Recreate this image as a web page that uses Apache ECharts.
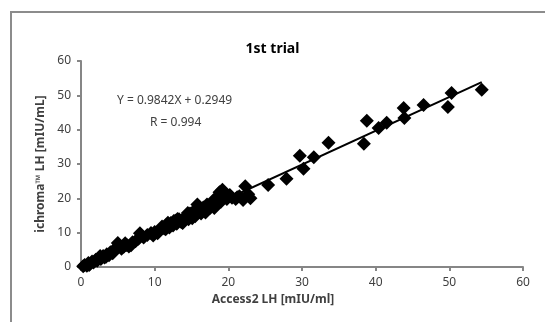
<!DOCTYPE html>
<html>
<head>
<meta charset="utf-8">
<script src="https://cdn.jsdelivr.net/npm/echarts@6/dist/echarts.min.js"></script>
<style>
  html, body { margin: 0; padding: 0; background: #fff; }
  #chart { width: 545px; height: 322px; }
</style>
</head>
<body>
<div id="chart"></div>
<script>
// Access2 LH (x) vs ichroma LH (y)
const accessValues = [
  0.3, 0.5, 0.8, 1.0, 1.2, 1.5, 1.7, 2.0, 2.2, 2.4, 2.7, 3.0, 3.2, 3.5, 3.8,
  4.0, 4.3, 4.6, 4.8, 5.0, 5.2, 5.5, 5.8, 6.2, 6.5, 7.0, 7.4, 7.8, 8.0, 8.5,
  9.0, 9.5, 10.0, 10.4, 10.8, 11.0, 11.3, 11.6, 12.0, 12.2, 12.5, 12.8, 13.0, 13.3, 13.6,
  14.0, 14.3, 14.6, 15.0, 15.3, 15.5, 15.8, 16.0, 16.3, 16.6, 17.0, 17.2, 17.5, 17.8, 18.0,
  18.3, 18.5, 18.8, 19.0, 19.2, 19.5, 19.8, 20.2, 20.5, 21.0, 21.5, 22.0, 22.3, 22.7, 23.0,
  25.4, 27.9, 29.7, 30.2, 31.6, 33.6, 38.4, 38.8, 40.4, 41.5, 43.8, 43.9, 46.5, 49.8, 50.3,
  54.4,
  1.1, 2.6, 3.4, 4.4, 6.0, 6.8, 9.8, 11.5, 12.6, 13.8, 14.8, 15.1, 16.1, 16.9, 17.6,
  18.1, 18.7, 19.6, 20.0, 21.2, 11.8, 13.1, 14.5, 15.6, 17.1
]
const ichromaValues = [
  0.2, 0.6, 0.4, 1.2, 0.9, 1.6, 1.3, 2.1, 1.8, 2.6, 2.3, 3.2, 2.8, 3.7, 3.4,
  4.3, 4.0, 4.9, 5.6, 7.0, 6.2, 5.3, 5.9, 6.4, 6.0, 7.2, 7.5, 8.2, 9.8, 8.6,
  9.3, 9.9, 10.2, 9.8, 10.9, 11.8, 11.2, 12.3, 11.5, 12.8, 12.1, 13.5, 12.6, 13.9, 13.1,
  14.2, 14.8, 13.9, 15.4, 16.0, 14.8, 18.2, 16.5, 15.6, 17.3, 16.8, 18.0, 17.2, 18.6, 19.5,
  17.9, 20.3, 21.8, 19.0, 22.5, 20.5, 19.8, 21.0, 20.2, 19.8, 20.6, 19.5, 23.5, 21.2, 20.0,
  23.9, 25.7, 32.4, 28.6, 32.0, 36.2, 35.9, 42.6, 40.5, 42.0, 46.3, 43.4, 47.2, 46.6, 50.7,
  51.6,
  0.6, 3.2, 3.0, 4.8, 6.9, 6.3, 9.2, 11.0, 13.4, 12.8, 15.6, 14.2, 17.4, 15.9, 18.3,
  17.2, 19.8, 21.2, 20.6, 20.3, 12.9, 14.0, 15.7, 16.9, 18.2
]
// linear fit line end points (Y = 0.9842X + 0.2949)
const trendX = [0, 54.4]
const trendY = [0.29, 53.84]
const axisTicks = [0, 10, 20, 30, 40, 50, 60]

const chart = echarts.init(document.getElementById('chart'))

const points = accessValues.map((x, i) => [x, ichromaValues[i]])
const trend = trendX.map((x, i) => [x, trendY[i]])

const textColor = '#404040'
const axisColor = '#868686'
const fontFamily = '"Noto Sans", "Open Sans", sans-serif'

const option = {
  animation: false,
  backgroundColor: '#fff',
  title: {
    text: '1st trial',
    left: 'center',
    top: 37,
    textStyle: { fontSize: 14, fontWeight: 'bold', color: '#000', fontFamily }
  },
  grid: { left: 81, right: 22, top: 61, bottom: 55 },
  xAxis: {
    type: 'value',
    min: axisTicks[0],
    max: axisTicks[axisTicks.length - 1],
    interval: 10,
    axisLine: { show: true, lineStyle: { color: axisColor, width: 2 } },
    axisTick: { show: true, length: 4, lineStyle: { color: axisColor, width: 2 } },
    axisLabel: { fontSize: 12, color: textColor, margin: 10, fontFamily },
    splitLine: { show: false }
  },
  yAxis: {
    type: 'value',
    min: axisTicks[0],
    max: axisTicks[axisTicks.length - 1],
    interval: 10,
    name: 'ichroma™ LH [mIU/mL]',
    nameLocation: 'middle',
    nameGap: 34,
    nameTextStyle: { fontSize: 12, fontWeight: 'bold', color: textColor, fontFamily },
    axisLine: { show: true, lineStyle: { color: axisColor, width: 2 } },
    axisTick: { show: true, length: 4, lineStyle: { color: axisColor, width: 2 } },
    axisLabel: { fontSize: 12, color: textColor, margin: 10, fontFamily },
    splitLine: { show: false }
  },
  graphic: [
    {
      type: 'rect',
      shape: { x: 11, y: 12, width: 560, height: 340 },
      style: { fill: 'none', stroke: '#8c8c8c', lineWidth: 2 },
      silent: true
    },
    {
      type: 'text',
      left: 117,
      top: 95,
      style: { text: 'Y = 0.9842X + 0.2949', fontSize: 12, fill: textColor, fontFamily }
    },
    {
      type: 'text',
      left: 150,
      top: 117,
      style: { text: 'R = 0.994', fontSize: 12, fill: textColor, fontFamily }
    },
    {
      // x axis title sits left of the axis centre in the original
      type: 'text',
      x: 273,
      y: 300,
      style: {
        text: 'Access2 LH [mIU/ml]', fontSize: 12, fontWeight: 'bold', fill: textColor,
        fontFamily, align: 'center', verticalAlign: 'middle'
      }
    }
  ],
  series: [
    {
      type: 'scatter',
      data: points,
      symbol: 'diamond',
      symbolSize: 14,
      itemStyle: { color: '#000', opacity: 1 },
      z: 3
    },
    {
      type: 'line',
      data: trend,
      symbol: 'none',
      lineStyle: { color: '#000', width: 2 },
      z: 4
    }
  ]
}

chart.setOption(option)
</script>
</body>
</html>
